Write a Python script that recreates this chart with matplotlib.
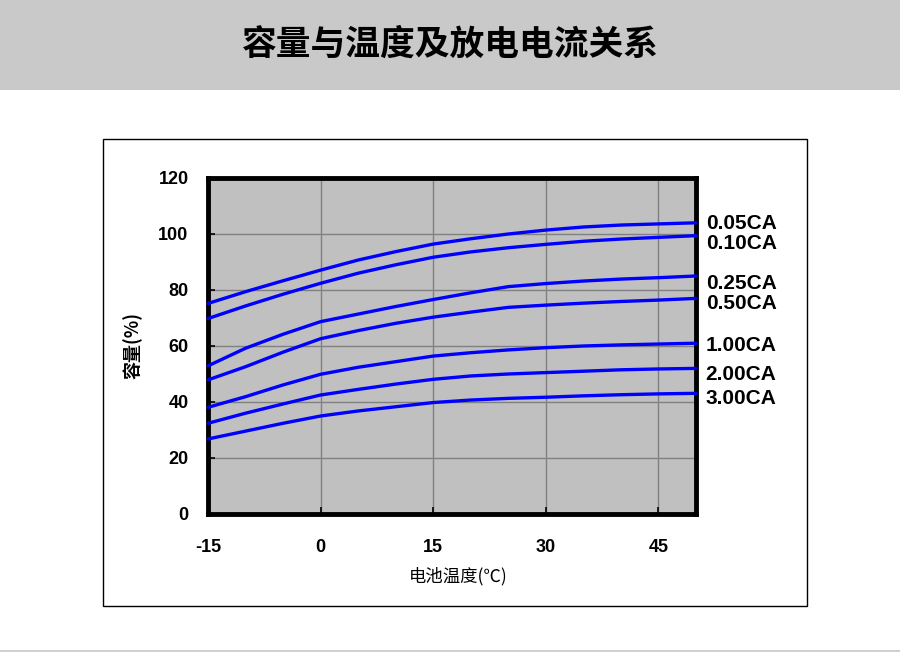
import matplotlib
matplotlib.use("Agg")
import matplotlib.pyplot as plt
from matplotlib.patches import Rectangle

plt.rcParams['font.family'] = ['Liberation Sans', 'Noto Sans CJK SC', 'DejaVu Sans']
plt.rcParams['axes.unicode_minus'] = False

# data
temps = [-15, -10, -5, 0, 5, 10, 15, 20, 25, 30, 35, 40, 45, 50]
cap_005 = [75.2, 79.4, 83.3, 87.1, 90.7, 93.7, 96.4, 98.3, 100.0, 101.4, 102.5, 103.2, 103.6, 104.0]
cap_010 = [69.8, 74.3, 78.5, 82.4, 86.0, 89.0, 91.7, 93.6, 95.1, 96.3, 97.4, 98.2, 98.8, 99.4]
cap_025 = [52.9, 59.2, 64.2, 68.7, 71.4, 74.1, 76.6, 79.0, 81.2, 82.3, 83.2, 83.9, 84.4, 85.0]
cap_050 = [47.9, 52.6, 57.8, 62.6, 65.5, 68.1, 70.3, 72.1, 73.8, 74.6, 75.3, 75.9, 76.4, 77.0]
cap_100 = [38.1, 41.9, 46.1, 49.9, 52.4, 54.4, 56.4, 57.6, 58.6, 59.4, 60.0, 60.4, 60.7, 61.0]
cap_200 = [32.4, 36.0, 39.3, 42.5, 44.5, 46.4, 48.1, 49.3, 50.0, 50.5, 51.0, 51.5, 51.8, 52.0]
cap_300 = [26.8, 29.6, 32.4, 35.0, 36.8, 38.3, 39.8, 40.7, 41.3, 41.7, 42.2, 42.6, 42.9, 43.1]
series = [cap_005, cap_010, cap_025, cap_050, cap_100, cap_200, cap_300]
labels = ["0.05CA", "0.10CA", "0.25CA", "0.50CA", "1.00CA", "2.00CA", "3.00CA"]
# small vertical nudges so the end labels do not collide
label_nudge = [-0.3, -2.9, -2.6, -1.7, -0.7, -2.0, -2.0]

xticks = [-15, 0, 15, 30, 45]
yticks = [0, 20, 40, 60, 80, 100, 120]

W, H = 900, 652
fig = plt.figure(figsize=(W / 100, H / 100), dpi=100)

# grey title band and thin bottom rule
fig.patches.append(Rectangle((0, 1 - 90 / H), 1, 90 / H, transform=fig.transFigure,
                             facecolor="#c9c9c9", edgecolor="none", zorder=0))
fig.patches.append(Rectangle((0, 0), 1, 2 / H, transform=fig.transFigure,
                             facecolor="#d0d0d0", edgecolor="none", zorder=0))
fig.text(0.5, 1 - 44 / H, "容量与温度及放电电流关系", ha="center", va="center",
         fontsize=25, fontweight="bold", family=["Noto Sans CJK SC"])

# outer frame around the chart
fig.patches.append(Rectangle((103 / W, 1 - 606 / H), (807 - 103) / W, (606 - 139) / H,
                             transform=fig.transFigure, facecolor="white",
                             edgecolor="black", linewidth=1, zorder=0.5))

ax = fig.add_axes([208 / W, 1 - 514 / H, (696 - 208) / W, (514 - 178) / H])
ax.set_zorder(2)
ax.set_facecolor("#c0c0c0")
for s in ax.spines.values():
    s.set_linewidth(3.5)
    s.set_color("black")

for vals, lab, dy in zip(series, labels, label_nudge):
    ax.plot(temps, vals, color="#0000ff", linewidth=2.4, solid_capstyle="round", clip_on=False, zorder=3)
    ax.annotate(lab, xy=(temps[-1], vals[-1] + dy), xytext=(7, 0), textcoords="offset points",
                ha="left", va="center", fontsize=15, fontweight="bold", annotation_clip=False)

ax.set_xlim(-15, 50)
ax.set_ylim(0, 120)
ax.set_xticks(xticks)
ax.set_yticks(yticks)
ax.grid(True, color="#808080", linewidth=1)
ax.set_axisbelow(True)
ax.tick_params(direction="in", length=5, width=1.2, color="black")
ax.tick_params(axis="y", pad=14, labelsize=13)
ax.tick_params(axis="x", pad=18, labelsize=13)
for t in ax.get_xticklabels() + ax.get_yticklabels():
    t.set_fontweight("bold")

fig.text(133 / W, 1 - 345 / H, "容量(%)", rotation=90, ha="center", va="center",
         fontsize=13, fontweight="bold", family=["Noto Sans CJK SC"], zorder=3)
fig.text(458 / W, 1 - 576 / H, "电池温度(℃)", ha="center", va="center",
         fontsize=12.5, family=["Noto Sans CJK SC", "DejaVu Sans"], zorder=3)

fig.savefig("out.png", dpi=100)
